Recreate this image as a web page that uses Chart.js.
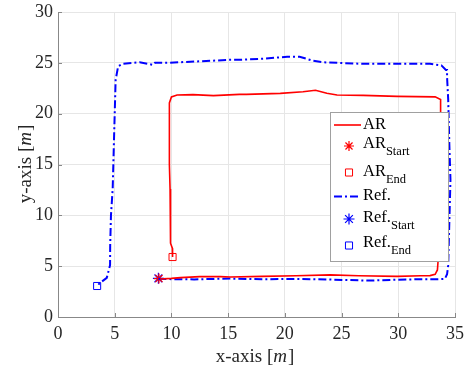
<!DOCTYPE html>
<html>
<head>
<meta charset="utf-8">
<script src="https://cdn.jsdelivr.net/npm/chart.js@4"></script>
<style>
    html, body { margin: 0; padding: 0; background: #fff; }
    #wrap { width: 465px; height: 372px; }
</style>
</head>
<body>
<div id="wrap"><canvas id="traj"></canvas></div>
<script>
// AR trajectory (metres)
const arX = [9.0, 10.0, 10.8, 12.5, 14.3, 15.2, 18.0, 21.0, 24.0, 26.5, 29.9, 32.0, 32.8, 33.25, 33.45, 33.6, 33.7, 33.75, 33.75, 33.72, 33.7, 33.25, 29.9, 26.9, 24.6, 23.7, 22.7, 21.6, 19.6, 16.6, 16.0, 13.7, 11.9, 10.5, 10.0, 9.82, 9.79, 9.85, 9.88, 9.9, 9.94, 10.08, 10.1];
const arY = [3.74, 3.8, 3.87, 3.97, 3.97, 3.94, 4.0, 4.05, 4.14, 4.05, 4.0, 4.05, 4.07, 4.2, 4.63, 6.9, 10.0, 13.5, 17.0, 20.5, 21.4, 21.65, 21.7, 21.8, 21.84, 22.0, 22.3, 22.15, 22.0, 21.9, 21.9, 21.77, 21.87, 21.84, 21.65, 21.05, 18.1, 15.0, 12.6, 10.2, 7.26, 6.77, 5.9];

// Reference trajectory (metres)
const refX = [8.85, 10.0, 12.0, 15.2, 18.0, 21.05, 24.0, 27.5, 29.5, 31.6, 33.5, 34.1, 34.3, 34.4, 34.6, 34.5, 34.4, 34.3, 34.3, 34.2, 33.8, 32.8, 29.0, 26.9, 23.4, 22.5, 21.3, 20.2, 18.1, 16.05, 15.2, 12.5, 9.6, 8.55, 8.4, 7.2, 5.7, 5.3, 5.08, 4.95, 4.82, 4.67, 4.6, 4.59, 4.3, 3.7, 3.45];
const refY = [3.77, 3.72, 3.7, 3.78, 3.72, 3.74, 3.68, 3.58, 3.65, 3.71, 3.72, 3.74, 4.2, 5.1, 13.5, 17.0, 21.4, 23.6, 24.3, 24.3, 24.75, 24.9, 24.9, 24.9, 25.05, 25.2, 25.6, 25.6, 25.4, 25.3, 25.3, 25.15, 25.0, 25.0, 24.8, 25.05, 24.9, 24.65, 23.3, 18.0, 12.6, 10.0, 7.0, 5.1, 3.85, 3.35, 3.05];

// start / end markers
const arStart = [8.9, 3.78];
const arEnd = [10.1, 5.9];
const refStart = [8.85, 3.8];
const refEnd = [3.45, 3.05];

const xTicks = [0, 5, 10, 15, 20, 25, 30, 35];
const yTicks = [0, 5, 10, 15, 20, 25, 30];

const toPts = (xs, ys) => xs.map((x, i) => ({ x: x, y: ys[i] }));

const red = '#ff0000';
const blue = '#0000ff';
const serif = '"Liberation Serif", "Times New Roman", serif';

// MATLAB-style inward ticks, axis titles and boxed legend with subscripts
const decorations = {
    id: 'decorations',
    afterDraw(chart) {
        const ctx = chart.ctx;
        const area = chart.chartArea;
        const xs = chart.scales.x;
        const ys = chart.scales.y;
        ctx.save();

        // inward ticks
        ctx.strokeStyle = '#888';
        ctx.lineWidth = 1;
        ctx.beginPath();
        xTicks.forEach(t => {
            const px = Math.round(xs.getPixelForValue(t)) + 0.5;
            ctx.moveTo(px, area.bottom);
            ctx.lineTo(px, area.bottom - 4);
        });
        yTicks.forEach(t => {
            const py = Math.round(ys.getPixelForValue(t)) + 0.5;
            ctx.moveTo(area.left, py);
            ctx.lineTo(area.left + 4, py);
        });
        ctx.stroke();

        // axis titles with italic m
        const drawTitle = (label, cx, cy, rot) => {
            ctx.save();
            ctx.translate(cx, cy);
            ctx.rotate(rot);
            ctx.fillStyle = '#262626';
            ctx.textBaseline = 'alphabetic';
            const up = '19px ' + serif;
            const it = 'italic 19px ' + serif;
            const parts = [[label + ' [', up], ['m', it], [']', up]];
            let w = 0;
            parts.forEach(p => { ctx.font = p[1]; w += ctx.measureText(p[0]).width; });
            let x = -w / 2;
            parts.forEach(p => {
                ctx.font = p[1];
                ctx.fillText(p[0], x, 0);
                x += ctx.measureText(p[0]).width + (p[0] === 'm' ? 1 : 0);
            });
            ctx.restore();
        };
        drawTitle('x-axis', (area.left + area.right) / 2 - 2, 362, 0);
        drawTitle('y-axis', 31, (area.top + area.bottom) / 2, -Math.PI / 2);

        // legend box
        const bx = area.right - 125, by = area.top + 100, bw = 118, bh = 149;
        ctx.fillStyle = '#fff';
        ctx.fillRect(bx, by, bw, bh);
        ctx.strokeStyle = '#a0a0a0';
        ctx.lineWidth = 1;
        ctx.strokeRect(bx + 0.5, by + 0.5, bw, bh);

        const rows = [
            { kind: 'line', ds: 0, y: 13, base: 17, main: 'AR', sub: '' },
            { kind: 'mark', ds: 2, y: 34, base: 36, main: 'AR', sub: 'Start' },
            { kind: 'mark', ds: 3, y: 60.5, base: 64, main: 'AR', sub: 'End' },
            { kind: 'line', ds: 1, y: 84.5, base: 88, main: 'Ref.', sub: '' },
            { kind: 'mark', ds: 4, y: 107, base: 109.5, main: 'Ref.', sub: 'Start' },
            { kind: 'mark', ds: 5, y: 133.5, base: 135, main: 'Ref.', sub: 'End' }
        ];
        rows.forEach(r => {
            const ds = chart.data.datasets[r.ds];
            const ly = by + r.y;
            ctx.save();
            if (r.kind === 'line') {
                ctx.strokeStyle = ds.borderColor;
                ctx.lineWidth = ds.borderWidth;
                ctx.setLineDash(ds.borderDash || []);
                ctx.beginPath();
                ctx.moveTo(bx + 4, ly);
                ctx.lineTo(bx + 31, ly);
                ctx.stroke();
            } else {
                ctx.lineWidth = ds.pointBorderWidth;
                ctx.strokeStyle = ds.pointBorderColor;
                ctx.fillStyle = 'rgba(0,0,0,0)';
                Chart.helpers.drawPoint(ctx, {
                    pointStyle: ds.pointStyle,
                    radius: ds.pointRadius,
                    borderWidth: ds.pointBorderWidth,
                    rotation: 0
                }, bx + 19, ly);
            }
            ctx.restore();
            ctx.fillStyle = '#000';
            ctx.font = '16.5px ' + serif;
            const tx = bx + 33;
            ctx.fillText(r.main, tx, by + r.base);
            if (r.sub) {
                const mw = ctx.measureText(r.main).width;
                ctx.font = '12.5px ' + serif;
                ctx.fillText(r.sub, tx + mw, by + r.base + 7);
            }
        });
        ctx.restore();
    }
};

const ctx = document.getElementById('traj').getContext('2d');
new Chart(ctx, {
    type: 'scatter',
    data: {
        datasets: [{
            label: 'AR',
            data: toPts(arX, arY),
            showLine: true,
            borderColor: red,
            borderWidth: 1.6,
            pointRadius: 0,
            tension: 0
        }, {
            label: 'Ref.',
            data: toPts(refX, refY),
            showLine: true,
            borderColor: blue,
            borderWidth: 2,
            borderDash: [8, 3, 2, 3],
            pointRadius: 0,
            tension: 0
        }, {
            label: 'AR Start',
            data: [{ x: arStart[0], y: arStart[1] }],
            pointStyle: 'star',
            pointRadius: 5,
            pointBorderColor: red,
            pointBorderWidth: 1.2,
            backgroundColor: 'rgba(0,0,0,0)'
        }, {
            label: 'AR End',
            data: [{ x: arEnd[0], y: arEnd[1] }],
            pointStyle: 'rect',
            pointRadius: 5,
            pointBorderColor: red,
            pointBorderWidth: 1,
            backgroundColor: 'rgba(0,0,0,0)'
        }, {
            label: 'Ref. Start',
            data: [{ x: refStart[0], y: refStart[1] }],
            pointStyle: 'star',
            pointRadius: 5.5,
            pointBorderColor: blue,
            pointBorderWidth: 1.2,
            backgroundColor: 'rgba(0,0,0,0)'
        }, {
            label: 'Ref. End',
            data: [{ x: refEnd[0], y: refEnd[1] }],
            pointStyle: 'rect',
            pointRadius: 5,
            pointBorderColor: blue,
            pointBorderWidth: 1,
            backgroundColor: 'rgba(0,0,0,0)'
        }]
    },
    options: {
        responsive: true,
        maintainAspectRatio: false,
        animation: false,
        layout: { padding: { top: 12, right: 10, left: 0, bottom: 0 } },
        plugins: {
            legend: { display: false },
            tooltip: { enabled: false }
        },
        scales: {
            x: {
                type: 'linear',
                min: 0,
                max: 35,
                afterBuildTicks: s => { s.ticks = xTicks.map(v => ({ value: v })); },
                afterFit: s => { s.height = 55; s.paddingLeft = 0; s.paddingRight = 0; },
                grid: { color: '#e6e6e6', drawTicks: false },
                border: { color: '#888', width: 1 },
                ticks: {
                    color: '#262626',
                    padding: 6,
                    font: { family: serif, size: 18 },
                    maxRotation: 0
                }
            },
            y: {
                type: 'linear',
                min: 0,
                max: 30,
                afterBuildTicks: s => { s.ticks = yTicks.map(v => ({ value: v })); },
                afterFit: s => { s.width = 58; s.paddingTop = 0; s.paddingBottom = 0; },
                grid: { color: '#e6e6e6', drawTicks: false },
                border: { color: '#888', width: 1 },
                ticks: {
                    color: '#262626',
                    padding: 5,
                    font: { family: serif, size: 18 }
                }
            }
        }
    },
    plugins: [decorations]
});
</script>
</body>
</html>
